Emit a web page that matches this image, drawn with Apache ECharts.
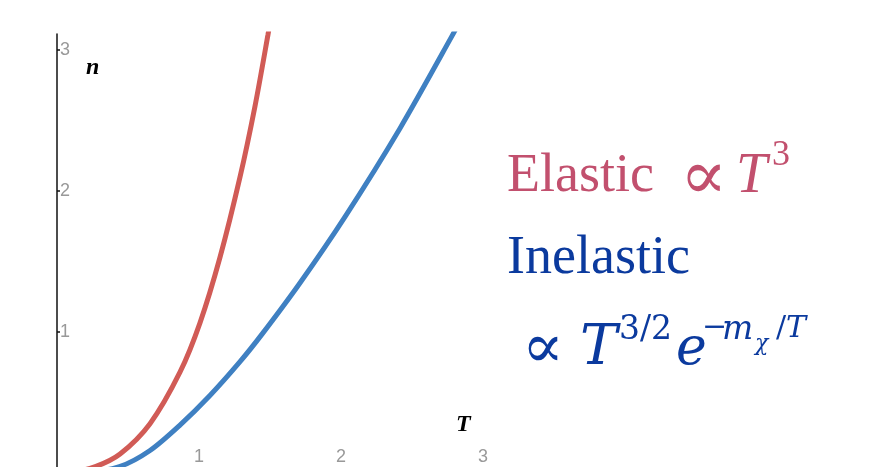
<!DOCTYPE html>
<html><head><meta charset="utf-8">
<script src="https://cdn.jsdelivr.net/npm/echarts@6/dist/echarts.min.js"></script>
<style>html,body{margin:0;padding:0;background:#fff;overflow:hidden}#c{width:873px;height:490px}</style>
</head><body><div id="c"></div>
<script>
const xTickLabels = [1, 2, 3];
const yTickLabels = [1, 2, 3];
const elasticT = [0, 0.1, 0.27, 0.444, 0.655, 0.866, 1.007, 1.148, 1.289, 1.394, 1.486, 1.52];
const elasticN = [0, 0.004, 0.045, 0.135, 0.35, 0.715, 1.065, 1.53, 2.1, 2.6, 3.11, 3.31];
const inelasticT = [0, 0.2, 0.44, 0.655, 0.866, 1.077, 1.289, 1.444, 1.711, 2.028, 2.415, 2.782, 2.85];
const inelasticN = [0, 0.004, 0.045, 0.16, 0.34, 0.55, 0.79, 0.985, 1.348, 1.817, 2.444, 3.1, 3.23];

const RED = '#d15b56', BLUE = '#3f80c2', ROSE = '#c2506e', NAVY = '#0b3a9e';
const serif = "'Liberation Serif', 'DejaVu Serif', serif";
const dserif = "'DejaVu Serif', serif";
function pairs(a, b) { return a.map((v, i) => [v, b[i]]); }
function txt(text, x, y, font, fill) {
  return { type: 'text', x: x, y: y, style: { text: text, font: font, fill: fill, verticalAlign: 'middle', align: 'left' } };
}
const chart = echarts.init(document.getElementById('c'), null, { renderer: 'canvas' });
chart.setOption({
  animation: false,
  grid: { left: 57, top: 34, width: 710, height: 439, containLabel: false },
  xAxis: {
    type: 'value', min: 0, max: 5,
    axisLine: { show: false }, axisTick: { show: false }, splitLine: { show: false },
    axisLabel: { inside: true, margin: 7, color: '#999', fontSize: 18, fontFamily: 'Liberation Sans, Arial, sans-serif', customValues: xTickLabels }
  },
  yAxis: {
    type: 'value', min: 0, max: 3.1135,
    axisLine: { show: true, lineStyle: { color: '#111', width: 1.5 } },
    axisTick: { show: true, inside: true, length: 3, lineStyle: { color: '#111', width: 1.5 }, customValues: yTickLabels },
    splitLine: { show: false },
    axisLabel: { inside: true, margin: 3, color: '#999', fontSize: 18, fontFamily: 'Liberation Sans, Arial, sans-serif', customValues: yTickLabels }
  },
  series: [
    { type: 'line', data: pairs(elasticT, elasticN), smooth: 0.3, showSymbol: false, lineStyle: { color: RED, width: 5 }, clip: true },
    { type: 'line', data: pairs(inelasticT, inelasticN), smooth: 0.3, showSymbol: false, lineStyle: { color: BLUE, width: 5 }, clip: true }
  ],
  graphic: [
    txt('n', 86, 68, "italic bold 24px " + serif, '#000'),
    txt('T', 456, 425, "italic bold 24px " + serif, '#000'),
    txt('Elastic', 507, 177, "54px " + serif, ROSE),
    txt('\u221D', 680, 181, "70px " + dserif, ROSE),
    txt('T', 736, 177, "italic 56px " + serif, ROSE),
    txt('3', 772, 156, "36px " + serif, ROSE),
    txt('Inelastic', 507, 259, "54px " + serif, NAVY),
    txt('\u221D', 522, 351, "62px " + dserif, NAVY),
    txt('T', 580, 349, "italic 56px " + dserif, NAVY),
    txt('3/2', 619, 330, "33px " + dserif, NAVY),
    txt('e', 676, 350, "italic 52px " + dserif, NAVY),
    txt('\u2212', 702, 328, "30px " + dserif, NAVY),
    txt('m', 722, 330, "italic 33px " + dserif, NAVY),
    txt('\u03C7', 755, 344, "italic 22px " + dserif, NAVY),
    txt('/', 776, 329, "30px " + dserif, NAVY),
    txt('T', 786, 329, "italic 30px " + dserif, NAVY)
  ]
});
</script></body></html>
